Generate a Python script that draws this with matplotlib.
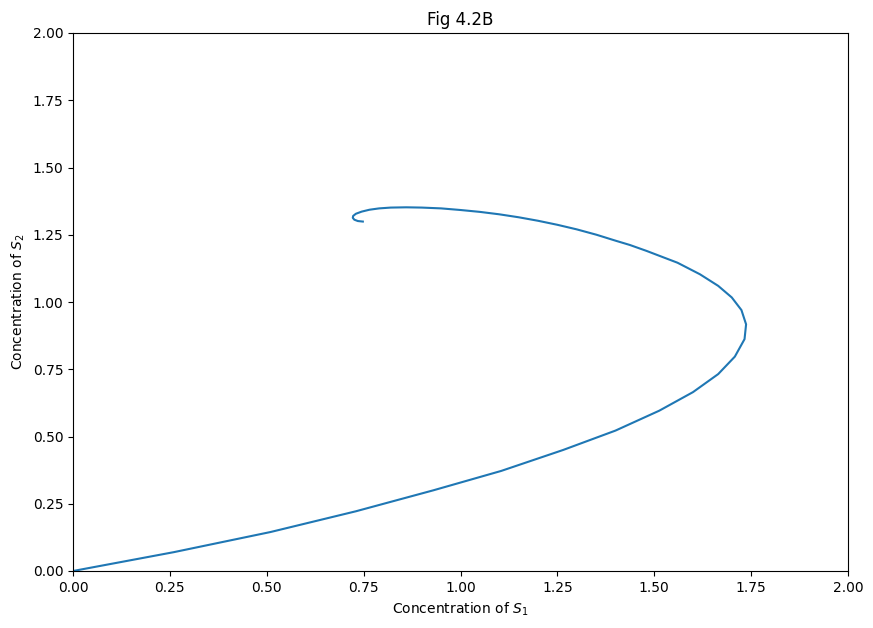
import matplotlib
matplotlib.use("Agg")
import matplotlib.pyplot as plt
import numpy as np

s1 = [0.0, 0.26, 0.51, 0.73, 0.93, 1.105, 1.265, 1.40, 1.513, 1.60, 1.665, 1.708,
      1.733, 1.737, 1.725, 1.70, 1.665, 1.618, 1.56, 1.52, 1.48, 1.437, 1.40, 1.351,
      1.30, 1.25, 1.20, 1.15, 1.10, 1.05, 1.00, 0.95, 0.90, 0.86, 0.82, 0.79, 0.765,
      0.745, 0.73, 0.723, 0.722, 0.726, 0.735, 0.748]
s2 = [0.0, 0.07, 0.145, 0.222, 0.30, 0.372, 0.45, 0.522, 0.596, 0.665, 0.732, 0.797,
      0.862, 0.917, 0.97, 1.017, 1.06, 1.103, 1.146, 1.168, 1.19, 1.212, 1.228, 1.25,
      1.27, 1.287, 1.302, 1.315, 1.326, 1.335, 1.342, 1.348, 1.351, 1.352, 1.351, 1.348, 1.343,
      1.336, 1.328, 1.32, 1.313, 1.306, 1.301, 1.299]

ticks = np.arange(0, 2.01, 0.25)

fig = plt.figure(figsize=(8.73, 6.28), dpi=100)
ax = fig.add_axes([73/873, 1-571/628, (848-73)/873, (571-33)/628])
ax.plot(s1, s2, color="#1f77b4", linewidth=1.5)
ax.set_xlim(0, 2)
ax.set_ylim(0, 2)
ax.set_xticks(ticks)
ax.set_yticks(ticks)
ax.set_xlabel("Concentration of $S_1$")
ax.set_ylabel("Concentration of $S_2$")
ax.set_title("Fig 4.2B")
fig.savefig("out.png", dpi=100)
